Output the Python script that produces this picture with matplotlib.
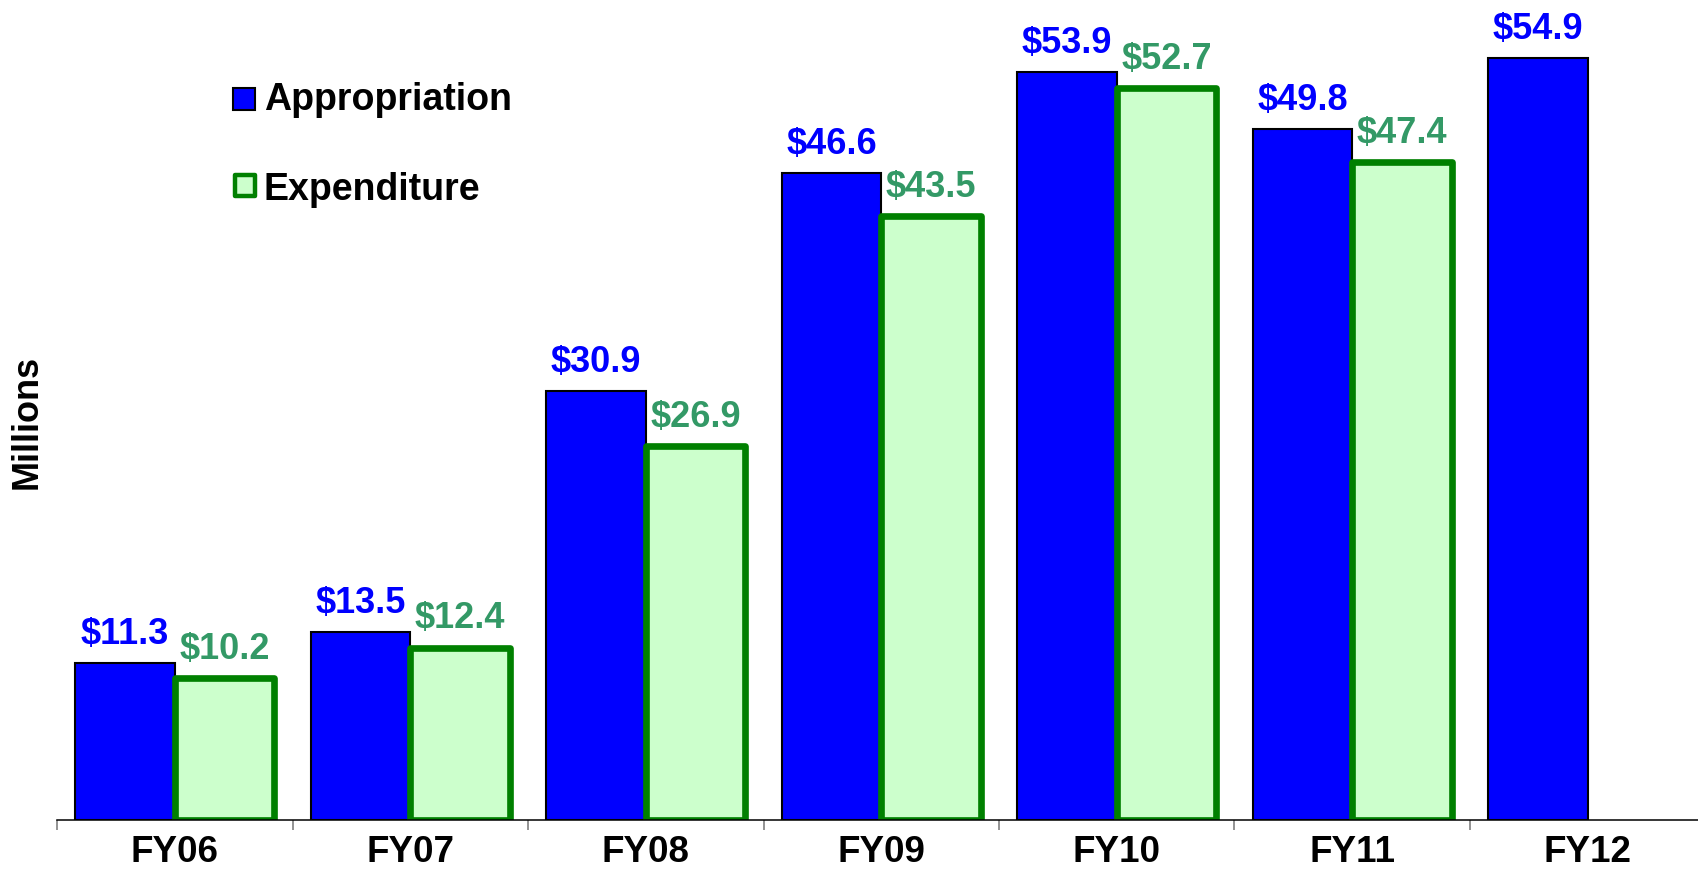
import matplotlib
matplotlib.use("Agg")
import matplotlib.pyplot as plt
from matplotlib.patches import Rectangle
import numpy as np

categories = ["FY06", "FY07", "FY08", "FY09", "FY10", "FY11", "FY12"]
appropriation = [11.3, 13.5, 30.9, 46.6, 53.9, 49.8, 54.9]
expenditure = [10.2, 12.4, 26.9, 43.5, 52.7, 47.4, None]
series_names = ["Appropriation", "Expenditure"]

plt.rcParams['font.family'] = ['Liberation Sans', 'DejaVu Sans']
plt.rcParams['font.weight'] = 'bold'

BLUE = "#0000FF"
GREEN_EDGE = "#008000"
GREEN_FILL = "#CCFFCC"
GREEN_TEXT = "#339966"

fig = plt.figure(figsize=(16.98, 8.72), dpi=100)
ax = fig.add_axes([0.0336, 0.0602, 0.9708, 0.9398])

x = np.arange(len(categories))
w = 0.4225

ax.bar(x - w / 2, appropriation, width=w, color=BLUE, edgecolor="black",
       linewidth=1.5, zorder=2)
ex_idx = [i for i, v in enumerate(expenditure) if v is not None]
ex_val = [expenditure[i] for i in ex_idx]
ax.bar(np.array(ex_idx) + w / 2, ex_val, width=w, color=GREEN_FILL,
       edgecolor=GREEN_EDGE, linewidth=4.8, joinstyle='round', zorder=2)

for i, v in enumerate(appropriation):
    ax.annotate(f"${v:.1f}", (i - w / 2, v), xytext=(0, 13.7),
                textcoords="offset points", ha="center", va="baseline",
                color=BLUE, fontsize=26, fontweight="bold")
for i, v in zip(ex_idx, ex_val):
    ax.annotate(f"${v:.1f}", (i + w / 2, v), xytext=(0, 13.7),
                textcoords="offset points", ha="center", va="baseline",
                color=GREEN_TEXT, fontsize=26, fontweight="bold")

ax.set_xlim(-0.5, len(categories) - 0.5)
ax.set_ylim(0, 59.08)
for s in ["left", "top", "right"]:
    ax.spines[s].set_visible(False)
ax.spines["bottom"].set_linewidth(1.1)
ax.spines["bottom"].set_zorder(3)
ax.set_yticks([])
ax.set_xticks(x)
ax.set_xticklabels(categories, fontsize=26.5, fontweight="bold")
ax.tick_params(axis="x", which="major", length=0, pad=11)
ax.set_xticks(np.arange(-0.5, len(categories), 1.0), minor=True)
ax.tick_params(axis="x", which="minor", length=7.5, width=1.2, color="#808080")

fig.text(0.016, 0.516, "Millions", rotation=90, ha="center", va="center",
         fontsize=26, fontweight="bold")

# Legend
W, H = 1698.0, 872.0
fig.add_artist(Rectangle((233 / W, (H - 110) / H), 22 / W, 22 / H,
                         transform=fig.transFigure, facecolor=BLUE,
                         edgecolor="black", linewidth=1.5))
fig.add_artist(Rectangle((235.5 / W, (H - 196) / H), 19.5 / W, 21 / H,
                         transform=fig.transFigure, facecolor=GREEN_FILL,
                         edgecolor=GREEN_EDGE, linewidth=3.2, joinstyle='round'))
fig.text(264 / W, (H - 110) / H, series_names[0], ha="left", va="baseline",
         fontsize=27, fontweight="bold")
fig.text(264 / W, (H - 200) / H, series_names[1], ha="left", va="baseline",
         fontsize=27, fontweight="bold")

fig.savefig("out.png", dpi=100)
